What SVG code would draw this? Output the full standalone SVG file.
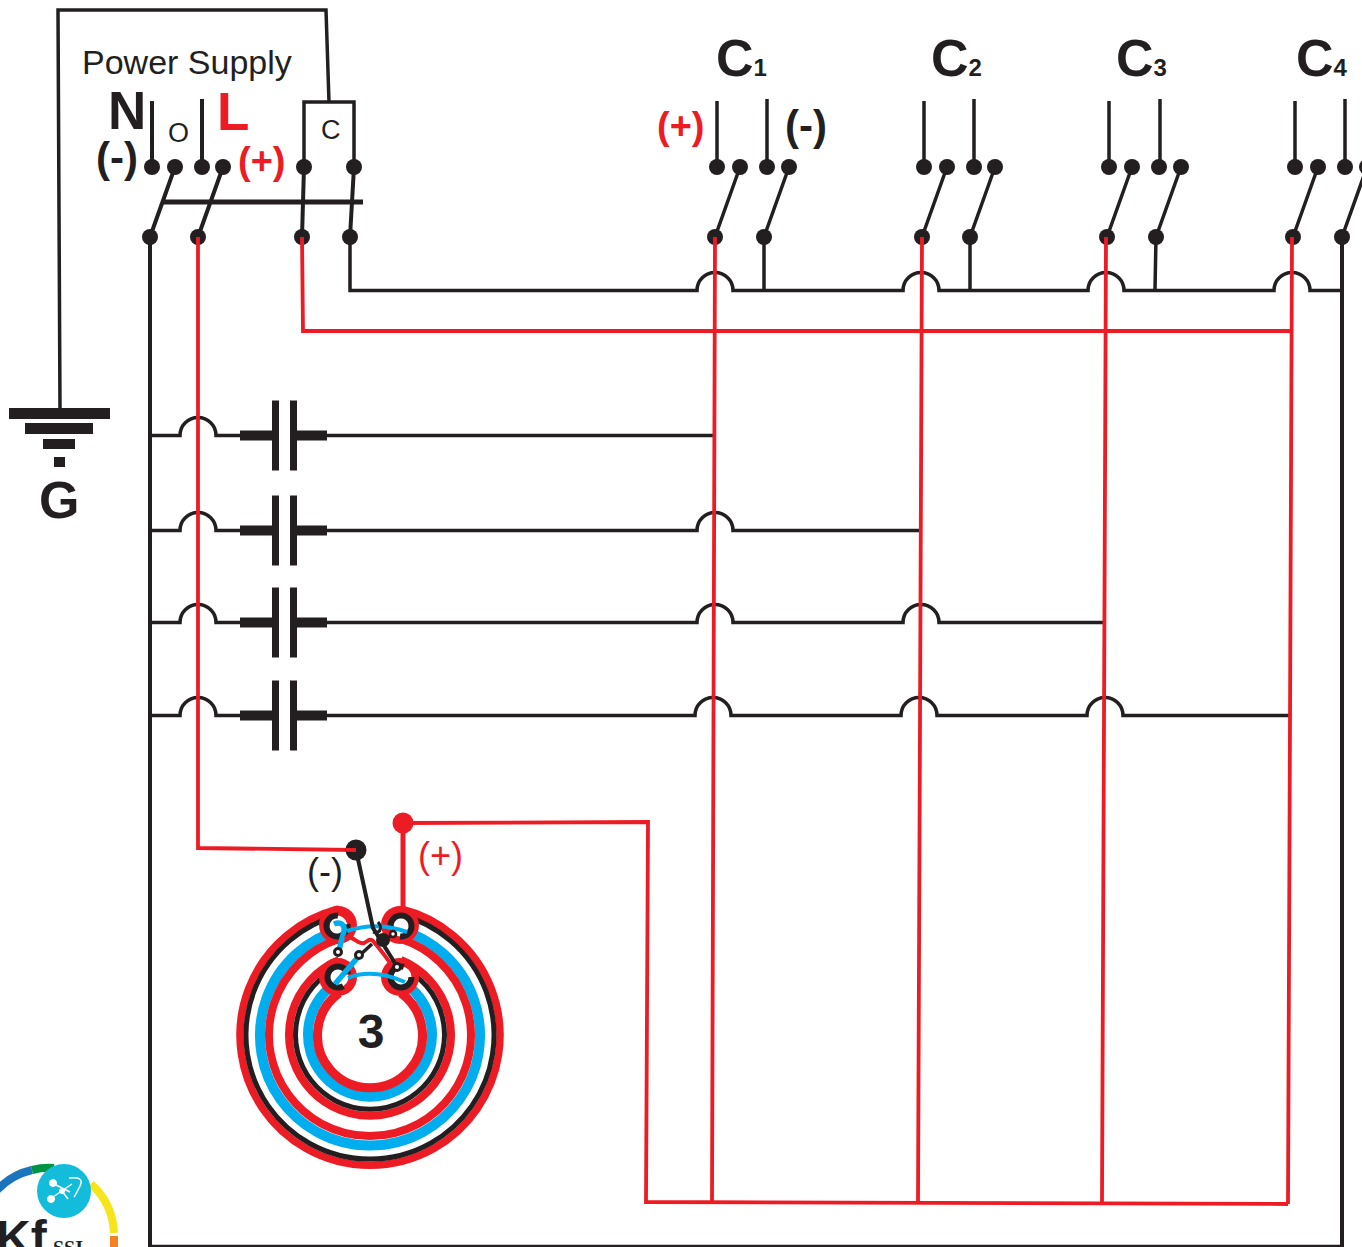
<svg xmlns="http://www.w3.org/2000/svg" width="1362" height="1247" viewBox="0 0 1362 1247">
<style>
text{font-family:"Liberation Sans",Arial,sans-serif;fill:#231f20}
.b{font-weight:700}
.r{fill:#ed1c24}
.k{fill:none;stroke:#231f20;stroke-width:3.500}
.kt{fill:none;stroke:#231f20;stroke-width:4}
.rd{fill:none;stroke:#ed1c24;stroke-width:3.800}
.d{fill:#231f20}
.s{fill:#231f20;stroke:none}
.cl{fill:none;stroke-linecap:butt}
</style>
<defs>
<g id="cap">
<rect x="240" y="-5" width="33" height="10"/>
<rect x="297" y="-5" width="30" height="10"/>
<rect x="272" y="-35" width="7" height="70"/>
<rect x="290" y="-35" width="7" height="70"/>
</g>
</defs>
<rect width="1362" height="1247" fill="#fff"/>

<g id="connectors">
<path class="k" d="M60 408L58 10H326L329 102M304 167V102H354V167"/>
<path class="kt" d="M152 101V167M202 99V167M175 167L150 237M223 167L198 237M304 167L302 237M354 167L350 237"/>
<path d="M163 202H363" fill="none" stroke="#231f20" stroke-width="5"/>
<path class="kt" d="M150 237V1247M1342 237V1247"/>
<path class="k" d="M150 1246.500H1343"/>
<path class="k" d="M350 237V290.500H697A18 18 0 0 1 733 290.500H903A18 18 0 0 1 939 290.500H1088A18 18 0 0 1 1124 290.500H1274A18 18 0 0 1 1310 290.500H1342"/>
<path class="k" d="M764 237V290M970 237V290M1156 237L1155 290"/>
<path class="k" d="M717 101V167M740 167L715 237M767 99V167M789 167L764 237"/>
<path class="k" d="M924 101V167M947 167L922 237M974 99V167M995 167L970 237"/>
<path class="k" d="M1109 101V167M1132 167L1107 237M1160 99V167M1181 167L1156 237"/>
<path class="k" d="M1295 101V167M1318 167L1293 237M1345 99V167M1367 167L1342 237"/>

<path class="k" d="M150 435.500H180A18 18 0 0 1 216 435.500H240M327 435.500H715"/>
<path class="k" d="M150 530.500H180A18 18 0 0 1 216 530.500H240M327 530.500H697A18 18 0 0 1 733 530.500H920"/>
<path class="k" d="M150 622.500H180A18 18 0 0 1 216 622.500H240M327 622.500H697A18 18 0 0 1 733 622.500H903A18 18 0 0 1 939 622.500H1105"/>
<path class="k" d="M150 715.500H180A18 18 0 0 1 216 715.500H240M327 715.500H695A18 18 0 0 1 731 715.500H901A18 18 0 0 1 937 715.500H1087A18 18 0 0 1 1123 715.500H1289"/>

<g class="s">
<rect x="9" y="408" width="101" height="11"/>
<rect x="25" y="423" width="68" height="11"/>
<rect x="43" y="439" width="32" height="10"/>
<rect x="54" y="457" width="11" height="10"/>
<use href="#cap" y="435.500"/><use href="#cap" y="530.500"/><use href="#cap" y="622.500"/><use href="#cap" y="715.500"/>
</g>

<g class="d">
<circle cx="152" cy="167" r="8"/><circle cx="175" cy="167" r="8"/><circle cx="202" cy="167" r="8"/><circle cx="223" cy="167" r="8"/><circle cx="304" cy="167" r="8"/><circle cx="354" cy="167" r="8"/>
<circle cx="150" cy="237" r="8"/><circle cx="198" cy="237" r="8"/><circle cx="302" cy="237" r="8"/><circle cx="350" cy="237" r="8"/>
<circle cx="717" cy="167" r="8"/><circle cx="740" cy="167" r="8"/><circle cx="767" cy="167" r="8"/><circle cx="789" cy="167" r="8"/><circle cx="715" cy="237" r="8"/><circle cx="764" cy="237" r="8"/>
<circle cx="924" cy="167" r="8"/><circle cx="947" cy="167" r="8"/><circle cx="974" cy="167" r="8"/><circle cx="995" cy="167" r="8"/><circle cx="922" cy="237" r="8"/><circle cx="970" cy="237" r="8"/>
<circle cx="1109" cy="167" r="8"/><circle cx="1132" cy="167" r="8"/><circle cx="1159" cy="167" r="8"/><circle cx="1181" cy="167" r="8"/><circle cx="1107" cy="237" r="8"/><circle cx="1156" cy="237" r="8"/>
<circle cx="1295" cy="167" r="8"/><circle cx="1318" cy="167" r="8"/><circle cx="1345" cy="167" r="8"/><circle cx="1367" cy="167" r="8"/><circle cx="1293" cy="237" r="8"/><circle cx="1342" cy="237" r="8"/>
</g>

<path class="rd" d="M198 237V848L356 850"/>
<path class="rd" d="M302 237L303 331H1292"/>
<path class="rd" d="M715 237L712 1203M922 237L918 1203M1106 237L1102 1203M1292 237L1288 1204"/>
<path class="rd" d="M403 823L648 822L646 1202L1288 1204"/>
</g>

<g id="coil">
<path d="M403 823V910" fill="none" stroke="#ed1c24" stroke-width="5"/>
<circle cx="403" cy="823" r="10.500" fill="#ed1c24"/>
<g class="cl">
<path d="M339 909A130 130 0 1 0 401 909" stroke="#ed1c24" stroke-width="7.500"/>
<path d="M339 915A124 124 0 1 0 401 915" stroke="#231f20" stroke-width="5"/>
<path d="M339 930A110 110 0 1 0 401 930" stroke="#00aeef" stroke-width="10"/>
<path d="M339 939A101 101 0 1 0 401 939" stroke="#ed1c24" stroke-width="8"/>
<path d="M339 960A81 81 0 1 0 401 960" stroke="#ed1c24" stroke-width="8"/>
<path d="M339 967A74.500 74.500 0 1 0 401 967" stroke="#231f20" stroke-width="5"/>
<path d="M339 981A62 62 0 1 0 401 981" stroke="#00aeef" stroke-width="10"/>
<path d="M339 993A52.500 52.500 0 1 0 401 993" stroke="#ed1c24" stroke-width="9"/>
</g>
<g fill="#ed1c24"><circle cx="338" cy="925" r="19"/><circle cx="400" cy="925" r="19"/><circle cx="338" cy="977" r="19"/><circle cx="400" cy="977" r="19"/></g>
<g fill="#fff" stroke="#231f20" stroke-width="6">
<circle cx="337" cy="926" r="10.500" stroke-dasharray="52 14" transform="rotate(-10 337 926)"/>
<circle cx="401" cy="926" r="10.500" stroke-dasharray="52 14" transform="rotate(170 401 926)"/>
<circle cx="338" cy="977" r="10.500" stroke-dasharray="52 14" transform="rotate(60 338 977)"/>
<circle cx="401" cy="977" r="10.500" stroke-dasharray="52 14" transform="rotate(0 401 977)"/>
</g>
<g fill="none" stroke="#00aeef">
<path d="M347 931Q377 921 407 932" stroke-width="4"/>
<path d="M348 978Q372 968 405 982" stroke-width="4"/>
<path d="M334 924C341 921 345 925 344 931L339 950" stroke-width="5.500"/>
<path d="M335 984L358 957" stroke-width="5.500"/>
</g>
<path d="M345 938C352 934 358 945 364 943C368 941 370 938 373 941C378 947 386 956 392 966" fill="none" stroke="#ed1c24" stroke-width="4"/>
<g fill="none" stroke="#231f20">
<path d="M356 850L373 928L398 968" stroke-width="4"/>
<path d="M373 932C380 934 383 928 378 922" stroke-width="3"/>
<path d="M360 955L372 944" stroke-width="3.500"/>
<path d="M384 940L394 934" stroke-width="3"/>
<circle cx="338" cy="952" r="3.500" fill="#fff" stroke-width="3"/>
<circle cx="359" cy="955" r="3.500" fill="#fff" stroke-width="3"/>
<circle cx="397" cy="967" r="3.500" fill="#fff" stroke-width="3"/>
<circle cx="393" cy="934" r="3" fill="#fff" stroke-width="2.500"/>
</g>
<circle cx="383" cy="940" r="7" class="d"/>
<circle cx="356" cy="850" r="10.500" class="d"/>
<path d="M346 849.800L356 850" stroke="#ed1c24" stroke-width="3.800"/>
<text x="371" y="1048" class="b" font-size="48" text-anchor="middle">3</text>
</g>

<g id="labels">
<text x="82" y="74" font-size="34">Power Supply</text>
<text x="108" y="129" class="b" font-size="53">N</text>
<text x="217" y="130" class="b r" font-size="53">L</text>
<text x="96" y="172" class="b" font-size="42">(-)</text>
<text x="238" y="174" class="b r" font-size="38">(+)</text>
<text x="168" y="142" font-size="27">O</text>
<text x="321" y="139" font-size="27">C</text>
<text x="39" y="518" class="b" font-size="52">G</text>
<text x="716" y="76" class="b" font-size="52">C<tspan font-size="24">1</tspan></text>
<text x="931" y="76" class="b" font-size="52">C<tspan font-size="24">2</tspan></text>
<text x="1116" y="76" class="b" font-size="52">C<tspan font-size="24">3</tspan></text>
<text x="1296" y="76" class="b" font-size="52">C<tspan font-size="24">4</tspan></text>
<text x="657" y="139" class="b r" font-size="38">(+)</text>
<text x="785" y="140" class="b" font-size="42">(-)</text>
<text x="307" y="884" font-size="36">(-)</text>
<text x="418" y="868" class="r" font-size="36">(+)</text>
</g>

<g id="logo">
<g fill="none" stroke-width="8">
<path d="M-3 1190A70 70 0 0 1 32 1170" stroke="#1b75bc"/>
<path d="M32 1170A70 70 0 0 1 54 1168" stroke="#009444"/>
<path d="M91 1184A70 70 0 0 1 114 1233" stroke="#f7e51b"/>
<path d="M114 1236V1247" stroke="#f58220"/>
</g>
<circle cx="64" cy="1191" r="27" fill="#14bcdc"/>
<g fill="#fff" stroke="#fff">
<path d="M52 1183L70 1192M50 1199L72 1184M62 1191L68 1199" stroke-width="1.500"/>
<circle cx="53" cy="1183" r="3.500"/><circle cx="51" cy="1199" r="3.500"/><circle cx="62" cy="1191" r="2.500"/>
<path d="M69 1178Q85 1176 80 1186T74 1197" fill="none" stroke-width="1.500"/>
</g>
<text x="-4" y="1254" class="b" font-size="48" fill="#000">Kf</text>
<text x="53" y="1255" class="b" font-size="20" style="font-family:'Liberation Serif',serif">SSI</text>
</g>
</svg>
